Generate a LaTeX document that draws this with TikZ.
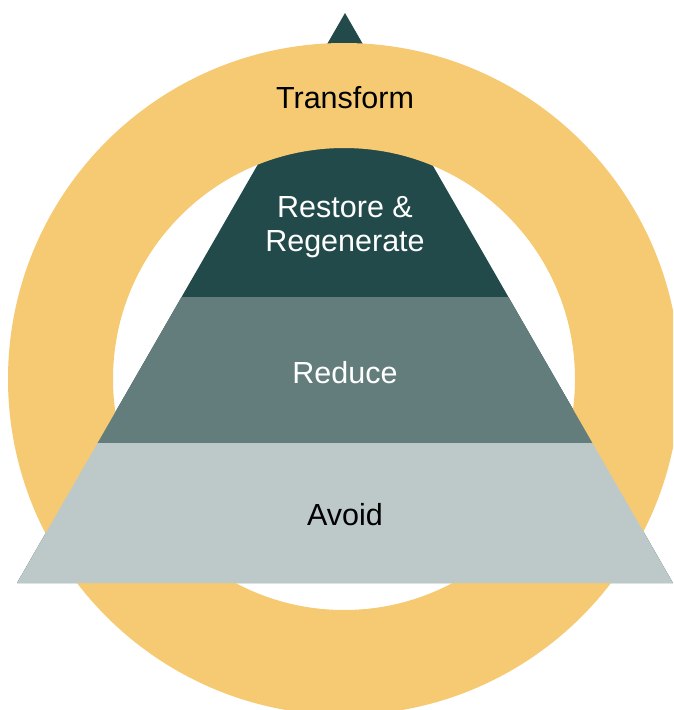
\documentclass[tikz,border=0pt]{standalone}
\usepackage{fontspec}
\setmainfont{Liberation Sans}
\usepackage{tikz}

\definecolor{ringyellow}{HTML}{F5CA72}
\definecolor{topgreen}{HTML}{224A4A}
\definecolor{midgreen}{HTML}{637D7C}
\definecolor{lowgreen}{HTML}{BDC9C9}

\begin{document}
\begin{tikzpicture}[x=1pt, y=-1pt,
		layer_style/.style={draw=none},
		label_dark/.style={font=\fontsize{30.5}{34}\selectfont, text=black, align=center},
		label_light/.style={font=\fontsize{30.5}{34}\selectfont, text=white, align=center}]

		\useasboundingbox (0,0) rectangle (673,710);
		\clip (0,0) rectangle (673,710);

		% top of the pyramid, partly under the ring
		\fill[layer_style, topgreen] (345,13) -- (17,583) -- (673,583) -- cycle;

		% ring
		\fill[ringyellow, even odd rule] (344,379) circle (336) (344,379) circle (231);

		% lower layers, over the ring
		\fill[layer_style, midgreen] (181.6,297) -- (508.4,297) -- (592.4,443) -- (97.6,443) -- cycle;
		\fill[layer_style, lowgreen] (97.6,443) -- (592.4,443) -- (673,583) -- (17,583) -- cycle;

		\node[label_dark] (transform) at (345,98) {Transform};
		\node[label_light] (restore) at (345,227) {Restore \&\\Regenerate};
		\node[label_light] (reduce) at (345,373) {Reduce};
		\node[label_dark] (avoid) at (345,515) {Avoid};

		\end{tikzpicture}
\end{document}
